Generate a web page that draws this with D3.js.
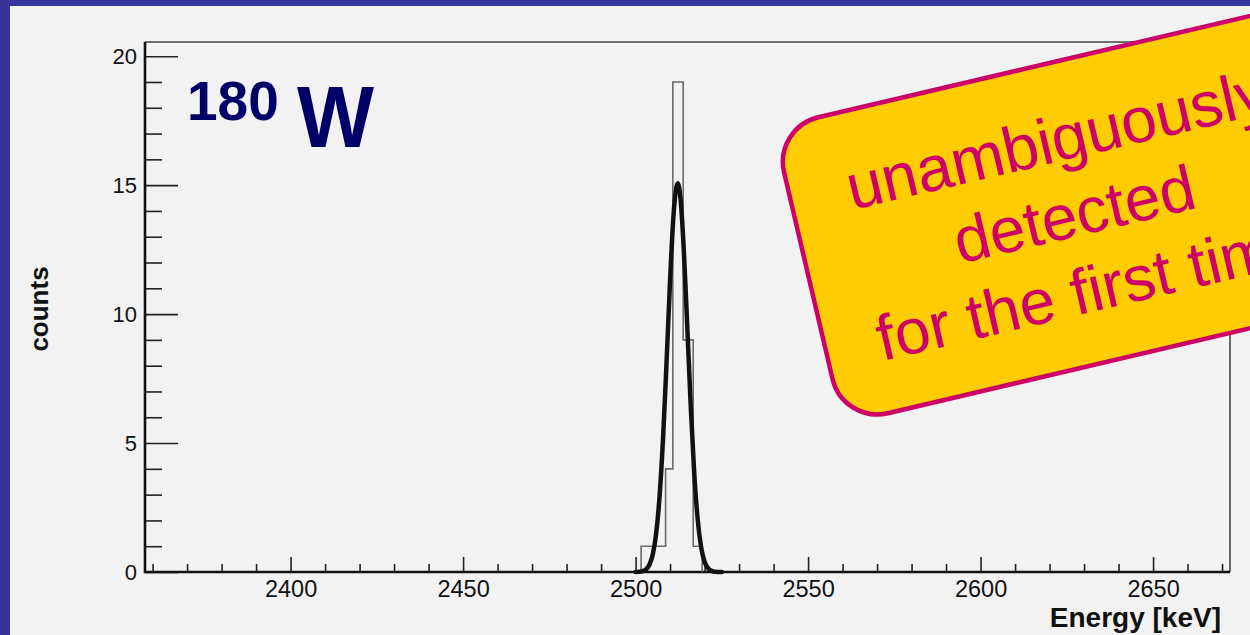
<!DOCTYPE html>
<html>
<head>
<meta charset="utf-8">
<script src="https://cdn.jsdelivr.net/npm/d3@7"></script>
<style>
  html, body { margin: 0; padding: 0; background: #f2f2f2; }
  svg { display: block; }
  text { font-family: "Liberation Sans", Arial, Helvetica, sans-serif; }
</style>
</head>
<body>
<svg id="chart" width="1250" height="635"></svg>
<script>
// Energy spectrum around the 180W alpha line
const binEdges = [2501.6, 2504.0, 2506.3, 2508.7, 2510.8, 2513.8, 2516.7, 2519.3]; // keV
const binCounts = [1, 1, 1, 4, 19, 9, 1];

// Fitted peak shape (energy in keV, counts)
const fitEnergy = [2500, 2502, 2503, 2504, 2505, 2506, 2507, 2508, 2509, 2510, 2511, 2512.2,
                   2513, 2514, 2515, 2516, 2517, 2518, 2519, 2520, 2521, 2522, 2523, 2525];
const fitCounts = [0, 0.03, 0.1, 0.28, 0.69, 1.53, 3.02, 5.28, 8.2, 11.3, 13.84, 15.07,
                   14.51, 12.43, 9.46, 6.39, 3.83, 2.04, 0.96, 0.4, 0.15, 0.05, 0.01, 0];

const xDomain = [2357.8, 2672.3];
const yDomain = [0, 20.55];
const xMajorTicks = [2400, 2450, 2500, 2550, 2600, 2650];
const xMinorTicks = [2360, 2370, 2380, 2390, 2410, 2420, 2430, 2440, 2460, 2470, 2480, 2490,
                     2510, 2520, 2530, 2540, 2560, 2570, 2580, 2590, 2610, 2620, 2630, 2640,
                     2660, 2670];
const yMajorTicks = [0, 5, 10, 15, 20];
const yMinorTicks = [1, 2, 3, 4, 6, 7, 8, 9, 11, 12, 13, 14, 16, 17, 18, 19];

const calloutLines = ["unambiguously", "detected", "for the first time"];

const svg = d3.select("#chart");
const W = 1250, H = 635;
const plot = { left: 145, right: 1230, top: 42, bottom: 572 };

// page background and slide frame
svg.append("rect").attr("width", W).attr("height", H).attr("fill", "#f2f2f2");
svg.append("rect").attr("x", 0).attr("y", 0).attr("width", 10).attr("height", H).attr("fill", "#35359a");
svg.append("rect").attr("x", 0).attr("y", 0).attr("width", W).attr("height", 6).attr("fill", "#35359a");

const x = d3.scaleLinear().domain(xDomain).range([plot.left, plot.right]);
const y = d3.scaleLinear().domain(yDomain).range([plot.bottom, plot.top]);

// top and right frame
svg.append("path")
  .attr("d", `M${plot.left},${plot.top}H${plot.right}V${plot.bottom}`)
  .attr("fill", "none").attr("stroke", "#444").attr("stroke-width", 1.6);

// x axis: major ticks with labels, minor ticks without
const xAxisMajor = d3.axisBottom(x).tickValues(xMajorTicks).tickSizeInner(-15).tickSizeOuter(0).tickPadding(8)
  .tickFormat(d3.format("d"));
const gx = svg.append("g").attr("transform", `translate(0,${plot.bottom})`).call(xAxisMajor);
gx.select(".domain").remove();
gx.selectAll(".tick line").attr("stroke", "#222").attr("stroke-width", 1.6);
gx.selectAll(".tick text").attr("font-size", 23.5).attr("fill", "#111")
  .attr("font-family", "'Liberation Sans', Arial, sans-serif").attr("dy", "0.72em");

const xAxisMinor = d3.axisBottom(x).tickValues(xMinorTicks).tickSizeInner(-8).tickSizeOuter(0).tickFormat("");
const gxm = svg.append("g").attr("transform", `translate(0,${plot.bottom})`).call(xAxisMinor);
gxm.select(".domain").remove();
gxm.selectAll(".tick line").attr("stroke", "#222").attr("stroke-width", 1.6);

// y axis
const yAxisMajor = d3.axisLeft(y).tickValues(yMajorTicks).tickSizeInner(-33).tickSizeOuter(0).tickPadding(8);
const gy = svg.append("g").attr("transform", `translate(${plot.left},0)`).call(yAxisMajor);
gy.select(".domain").remove();
gy.selectAll(".tick line").attr("stroke", "#222").attr("stroke-width", 1.6);
gy.selectAll(".tick text").attr("font-size", 22).attr("fill", "#111")
  .attr("font-family", "'Liberation Sans', Arial, sans-serif");

const yAxisMinor = d3.axisLeft(y).tickValues(yMinorTicks).tickSizeInner(-17).tickSizeOuter(0).tickFormat("");
const gym = svg.append("g").attr("transform", `translate(${plot.left},0)`).call(yAxisMinor);
gym.select(".domain").remove();
gym.selectAll(".tick line").attr("stroke", "#222").attr("stroke-width", 1.6);

// axis lines
svg.append("path")
  .attr("d", `M${plot.left},${plot.top}V${plot.bottom}H${plot.right}`)
  .attr("fill", "none").attr("stroke", "#111").attr("stroke-width", 2.6);

// axis titles
svg.append("text")
  .attr("transform", `translate(48,309) rotate(-90)`)
  .attr("text-anchor", "middle").attr("font-size", 26).attr("font-weight", "bold").attr("fill", "#111")
  .text("counts");
svg.append("text")
  .attr("x", 1221).attr("y", 627).attr("text-anchor", "end")
  .attr("font-size", 28).attr("font-weight", "bold").attr("fill", "#111")
  .text("Energy [keV]");

// histogram outline
const histPoints = [[binEdges[0], 0]]
  .concat(binCounts.map((c, i) => [binEdges[i], c]))
  .concat([[binEdges[binEdges.length - 1], 0]]);
svg.append("path")
  .datum(histPoints)
  .attr("d", d3.line().x(d => x(d[0])).y(d => y(d[1])).curve(d3.curveStepAfter))
  .attr("fill", "none").attr("stroke", "#6a6a6a").attr("stroke-width", 1.6);

// fit curve
svg.append("path")
  .datum(fitEnergy.map((e, i) => [e, fitCounts[i]]))
  .attr("d", d3.line().x(d => x(d[0])).y(d => y(d[1])).curve(d3.curveMonotoneX))
  .attr("fill", "none").attr("stroke", "#111").attr("stroke-width", 4.5)
  .attr("stroke-linejoin", "round").attr("stroke-linecap", "round");

// isotope label
svg.append("text").attr("x", 187).attr("y", 120).attr("fill", "#000066").attr("font-weight", "bold")
  .attr("font-size", 55).text("180");
svg.append("text").attr("x", 297).attr("y", 147).attr("fill", "#000066").attr("font-weight", "bold")
  .attr("font-size", 88).attr("textLength", 77).attr("lengthAdjust", "spacingAndGlyphs").text("W");

// callout box
const callout = svg.append("g").attr("transform", "rotate(-13.2)");
callout.append("rect")
  .attr("x", 724).attr("y", 301).attr("width", 566).attr("height", 304).attr("rx", 46).attr("ry", 46)
  .attr("fill", "#ffcc00").attr("stroke", "#cc0066").attr("stroke-width", 4.5);
callout.selectAll("text.line")
  .data(calloutLines)
  .join("text")
  .attr("class", "line")
  .attr("x", 997)
  .attr("y", (d, i) => 399 + i * 77)
  .attr("text-anchor", "middle")
  .attr("font-size", 64)
  .attr("fill", "#cc0066")
  .text(d => d);
</script>
</body>
</html>
